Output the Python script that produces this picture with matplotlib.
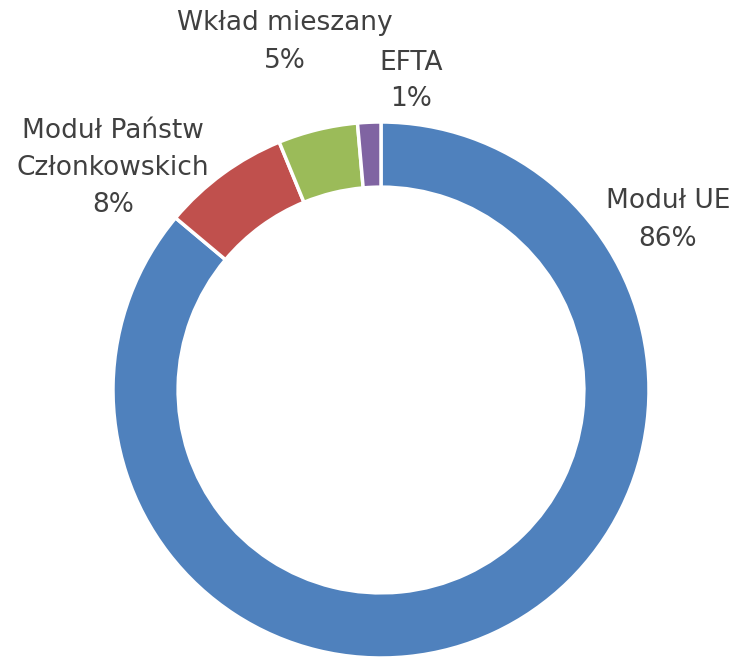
import matplotlib.pyplot as plt

# data
labels = ["Moduł UE", "Moduł Państw\nCzłonkowskich", "Wkład mieszany", "EFTA"]
values = [86.1, 7.7, 4.8, 1.4]
colors = ["#4F81BD", "#C0504D", "#9BBB59", "#8064A2"]

# label anchor points in pixel coords (from top-left)
label_pos = [(668, 220), (113, 168), (285, 42), (411, 81)]

W, H = 751, 657
fig = plt.figure(figsize=(W / 100, H / 100), dpi=100)
ax = fig.add_axes([0, 0, 1, 1])

cx, cy, r = 381, H - 390, 268
ax.pie(values, colors=colors, startangle=90, counterclock=False,
       center=(cx, cy), radius=r, frame=True,
       wedgeprops=dict(width=r * 0.243, edgecolor="white", linewidth=2.5))
ax.set_xlim(0, W)
ax.set_ylim(0, H)
ax.set_aspect("equal")
ax.axis("off")

for lab, val, (px, py) in zip(labels, values, label_pos):
    ax.text(px, H - py, f"{lab}\n{round(val)}%", ha="center", va="center",
            fontsize=19, color="#404040", linespacing=1.55,
            family="DejaVu Sans")

fig.savefig("out.png", dpi=100)
